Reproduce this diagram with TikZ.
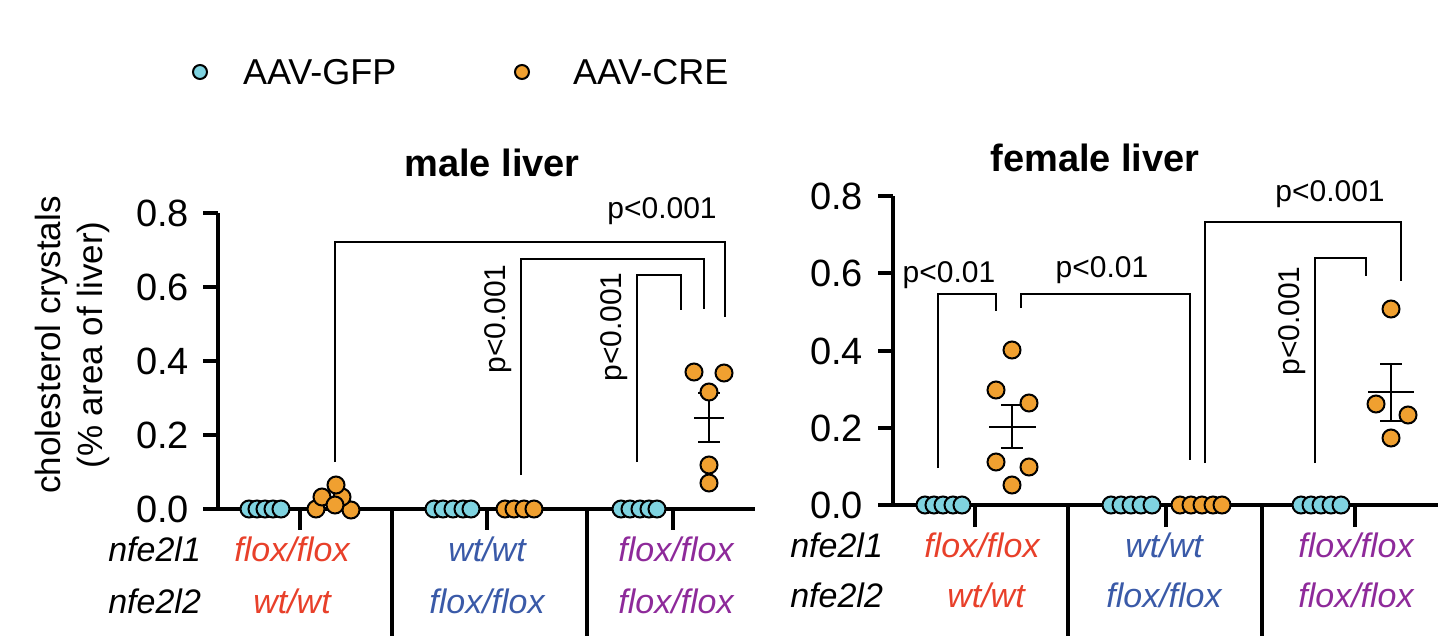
\documentclass[tikz,border=0pt]{standalone}
\usepackage{fontspec}
\setmainfont{Liberation Sans}
\usepackage{tikz}
\usetikzlibrary{positioning}
\definecolor{gfpcol}{HTML}{7FD3E0}
\definecolor{crecol}{HTML}{F0A030}
\definecolor{redlab}{HTML}{E8402A}
\definecolor{bluelab}{HTML}{3A5AA8}
\definecolor{purplab}{HTML}{8E2A9A}
\begin{document}
\begin{tikzpicture}[x=0.5pt,y=-0.5pt,
    axis/.style = {line width=1.6pt},
    brk/.style = {line width=1.4pt},
    gfp/.style = {fill=gfpcol, draw=black, line width=1pt},
    cre/.style = {fill=crecol, draw=black, line width=1pt},
    tick/.style = {font=\fontsize{19}{21}\selectfont, anchor=east},
    grp/.style = {font=\fontsize{17}{19}\selectfont\itshape},
    gene/.style = {font=\fontsize{17}{19}\selectfont\itshape, anchor=east},
    pval/.style = {font=\fontsize{15}{17}\selectfont},
    ttl/.style = {font=\fontsize{19}{21}\selectfont\bfseries}
    ]
    \useasboundingbox (0,0) rectangle (1438,643);
    % legend
    \fill[gfp] (200,72) circle (7);
    \node (lgfp) [anchor=west, font=\fontsize{18}{20}\selectfont] at (236,72) {AAV-GFP};
    \fill[cre] (522,72) circle (7);
    \node (lcre) [anchor=west, font=\fontsize{18}{20}\selectfont] at (566,72) {AAV-CRE};
    % y title
    \node (ytitle) [rotate=90, align=center, font=\fontsize{17.5}{21}\selectfont] at (72,345) {cholesterol crystals\\(\% area of liver)};

    % ---------- male liver ----------
    \node (mtitle) [ttl] at (492,163) {male liver};
    \draw[axis] (218,213) -- (218,509) -- (755,509);
    \foreach \v/\y in {0.0/509,0.2/435,0.4/361,0.6/287,0.8/213}{
        \draw[axis] (203,\y) -- (218,\y);
        \node [tick] at (196,\y) {\v};
    }
    \foreach \x in {300,487,673} \draw[axis] (\x,509) -- (\x,530);
    \foreach \x in {392,587} \draw[axis] (\x,509) -- (\x,636);
    \node (mg1) [gene] at (208,549) {nfe2l1};
    \node (mg2) [gene] at (208,601) {nfe2l2};
    \node [grp, text=redlab] at (292,549) {flox/flox};
    \node [grp, text=redlab] at (292,601) {wt/wt};
    \node [grp, text=bluelab] at (487,549) {wt/wt};
    \node [grp, text=bluelab] at (487,601) {flox/flox};
    \node [grp, text=purplab] at (676,549) {flox/flox};
    \node [grp, text=purplab] at (676,601) {flox/flox};
    % brackets
    \draw[brk] (335,462) |- (725,242) -- (725,317);
    \draw[brk] (521,475) |- (704,259) -- (704,309);
    \draw[brk] (637,462) |- (681,275) -- (681,310);
    \node (mp1) [pval, anchor=south] at (662,232) {p<0.001};
    \node (mp2) [pval, rotate=90, anchor=south] at (519,319) {p<0.001};
    \node (mp3) [pval, rotate=90, anchor=south] at (635,327) {p<0.001};
    % dots
    \foreach \x in {249,257,265,273,281} \fill[gfp] (\x,509) circle (8.5);
    \foreach \x/\y in {316/509,351/510,322/497,342/497,335/505,336/485} \fill[cre] (\x,\y) circle (8.5);
    \foreach \x in {434,443,453,463,471} \fill[gfp] (\x,509) circle (8.5);
    \foreach \x in {505,514,524,534} \fill[cre] (\x,509) circle (8.5);
    \foreach \x in {621,630,640,649,657} \fill[gfp] (\x,509) circle (8.5);
    \draw[brk] (709,393) -- (709,442) (698,393) -- (720,393) (698,442) -- (720,442) (694,418) -- (724,418);
    \foreach \x/\y in {694/372,724/373,709/392,709/465,709/483} \fill[cre] (\x,\y) circle (8.5);

    % ---------- female liver ----------
    \node (ftitle) [ttl] at (1095,158) {female liver};
    \draw[axis] (893,196) -- (893,505) -- (1438,505);
    \foreach \v/\y in {0.0/505,0.2/428,0.4/351,0.6/273,0.8/196}{
        \draw[axis] (878,\y) -- (893,\y);
        \node [tick] at (870,\y) {\v};
    }
    \foreach \x in {975,1166,1355} \draw[axis] (\x,505) -- (\x,527);
    \foreach \x in {1068,1262} \draw[axis] (\x,505) -- (\x,636);
    \node (fg1) [gene] at (890,545) {nfe2l1};
    \node (fg2) [gene] at (890,595) {nfe2l2};
    \node [grp, text=redlab] at (982,545) {flox/flox};
    \node [grp, text=redlab] at (986,595) {wt/wt};
    \node [grp, text=bluelab] at (1164,545) {wt/wt};
    \node [grp, text=bluelab] at (1164,595) {flox/flox};
    \node [grp, text=purplab] at (1356,545) {flox/flox};
    \node [grp, text=purplab] at (1356,595) {flox/flox};
    % brackets
    \draw[brk] (938,468) |- (996,294) -- (996,311);
    \draw[brk] (1021,308) |- (1190,294) -- (1190,460);
    \draw[brk] (1205,463) |- (1401,222) -- (1401,281);
    \draw[brk] (1315,463) |- (1366,258) -- (1366,276);
    \node (fp1) [pval] at (949,275) {p<0.01};
    \node (fp2) [pval] at (1102,270) {p<0.01};
    \node (fp3) [pval, anchor=south] at (1330,215) {p<0.001};
    \node (fp4) [pval, rotate=90, anchor=south] at (1313,321) {p<0.001};
    % dots
    \foreach \x in {925,934,943,953,962} \fill[gfp] (\x,505) circle (8.5);
    \foreach \x in {1111,1121,1131,1141,1152} \fill[gfp] (\x,505) circle (8.5);
    \foreach \x in {1180,1191,1202,1213,1222} \fill[cre] (\x,505) circle (8.5);
    \foreach \x in {1301,1311,1321,1331,1341} \fill[gfp] (\x,505) circle (8.5);
    \draw[brk] (1012,405) -- (1012,448) (1001,405) -- (1023,405) (1001,448) -- (1023,448) (989,427) -- (1036,427);
    \foreach \x/\y in {1012/350,996/390,1029/403,996/462,1029/467,1012/485} \fill[cre] (\x,\y) circle (8.5);
    \draw[brk] (1391,364) -- (1391,421) (1380,364) -- (1402,364) (1380,421) -- (1402,421) (1368,392) -- (1414,392);
    \foreach \x/\y in {1391/309,1376/404,1408/415,1391/438} \fill[cre] (\x,\y) circle (8.5);
\end{tikzpicture}
\end{document}
